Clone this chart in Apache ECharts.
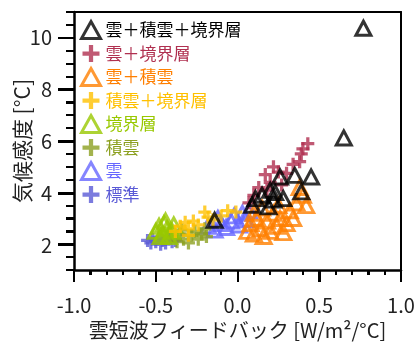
<!DOCTYPE html>
<html><head><meta charset="utf-8">
<script src="https://cdn.jsdelivr.net/npm/echarts@6/dist/echarts.min.js"></script>
<style>html,body{margin:0;padding:0;background:#fff}#c{width:420px;height:345px}</style>
</head><body><div id="c"></div>
<script>
// Legend / series names (legend order, top to bottom)
const seriesNames = ['雲＋積雲＋境界層','雲＋境界層','雲＋積雲','積雲＋境界層','境界層','積雲','雲','標準'];
// x: cloud shortwave feedback [W/m2/°C], y: climate sensitivity [°C]
const cloudCuBl = [[0.77,10.37],[0.65,6.12],[0.26,4.61],[0.35,4.67],[0.45,4.61],[0.39,4.03],[0.20,4.09],[0.11,3.77],[0.22,3.71],[0.28,3.77],[0.09,3.51],[0.19,3.45],[-0.14,2.93],[0.15,3.90],[0.23,4.00]];
const cloudBl = [[0.07,3.6],[0.10,3.9],[0.13,4.2],[0.17,4.7],[0.18,4.1],[0.20,4.4],[0.22,5.0],[0.25,4.8],[0.27,4.3],[0.30,4.75],[0.34,5.1],[0.38,5.2],[0.39,5.5],[0.40,5.7],[0.43,5.9]];
const cloudCu = [[0.06,2.5],[0.08,2.8],[0.10,2.4],[0.10,3.2],[0.12,3.0],[0.14,2.6],[0.15,3.4],[0.16,2.3],[0.18,2.9],[0.20,2.5],[0.22,3.2],[0.24,2.7],[0.25,3.5],[0.26,3.0],[0.28,2.45],[0.30,2.8],[0.32,3.3],[0.34,3.0],[0.36,3.6],[0.38,4.2],[0.40,3.9],[0.42,3.5]];
const cuBl = [[-0.38,2.5],[-0.35,2.7],[-0.32,2.85],[-0.30,2.6],[-0.30,2.35],[-0.27,2.9],[-0.24,2.75],[-0.20,3.25],[-0.18,3.05],[-0.15,2.95],[-0.10,3.1],[-0.06,3.3],[-0.01,3.25]];
const bl = [[-0.50,2.5],[-0.48,2.7],[-0.47,2.3],[-0.46,2.4],[-0.45,2.8],[-0.44,2.9],[-0.43,2.6],[-0.42,2.3],[-0.40,2.5],[-0.39,2.75]];
const cu = [[-0.40,2.3],[-0.37,2.1],[-0.35,2.4],[-0.34,2.55],[-0.33,2.2],[-0.30,2.05],[-0.28,2.35],[-0.26,2.5],[-0.24,2.2],[-0.22,2.4],[-0.20,2.6],[-0.19,2.3]];
const cloud = [[-0.18,2.7],[-0.14,2.55],[-0.12,3.0],[-0.10,2.8],[-0.07,2.65],[-0.04,2.9],[-0.02,3.1],[0.01,2.75],[0.03,3.2],[0.05,2.95],[0.07,3.3]];
const standard = [[-0.55,2.15],[-0.53,2.05],[-0.52,2.2],[-0.50,2.1],[-0.48,2.25],[-0.47,2.0],[-0.46,2.15],[-0.44,2.05],[-0.42,2.2],[-0.41,2.3],[-0.40,2.1],[-0.38,2.15]];
const seriesData = [cloudCuBl, cloudBl, cloudCu, cuBl, bl, cu, cloud, standard];
const xName = '雲短波フィードバック [W/m²/°C]';
const yName = '気候感度 [°C]';
// tick values
const xMajorTicks = [-1, -0.5, 0, 0.5, 1];
const xMinorTicks = [-0.9,-0.8,-0.7,-0.6,-0.4,-0.3,-0.2,-0.1,0.1,0.2,0.3,0.4,0.6,0.7,0.8,0.9];
const yMajorTicks = [2, 4, 6, 8, 10];
const yMinorTicks = [1,1.5,2.5,3,3.5,4.5,5,5.5,6.5,7,7.5,8.5,9,9.5,10.5,11];

const colors = ['#000000','#b03050','#ff7f00','#ffc000','#99c800','#8ca020','#6666ff','#5a5ad6'];
const kinds = ['tri','plus','tri','plus','tri','plus','tri','plus'];
const PLUS = 'path://M3,0H5V3H8V5H5V8H3V5H0V3H3Z';
const FONT = '"Noto Sans CJK JP", "Noto Sans", sans-serif';

const series = [];
for (let i = seriesNames.length - 1; i >= 0; i--) {
  const tri = kinds[i] === 'tri';
  series.push({
    name: seriesNames[i], type: 'scatter', xAxisIndex: 0, yAxisIndex: 0,
    data: seriesData[i], zlevel: 1,
    symbol: tri ? 'triangle' : PLUS,
    symbolSize: tri ? [15, 14] : 13,
    itemStyle: tri ? {color: 'rgba(0,0,0,0)', borderColor: colors[i], borderWidth: 3}
                   : {color: colors[i], borderWidth: 0}
  });
}
const legendData = seriesNames.map((n, i) => ({
  name: n,
  icon: kinds[i] === 'tri' ? 'triangle' : PLUS,
  itemStyle: kinds[i] === 'tri' ? {color: 'rgba(0,0,0,0)', borderColor: colors[i], borderWidth: 3}
                                 : {color: colors[i], borderWidth: 0},
  textStyle: {color: colors[i]}
}));

const off = () => ({show: false});
const noLine = () => ({show: false, onZero: false});
const frameLine = () => ({show: true, onZero: false, lineStyle: {color: '#000', width: 2}});
const tickStyle = () => ({color: '#000', width: 2, type: [50, 1]});
const chart = echarts.init(document.getElementById('c'), null, {renderer: 'canvas'});
chart.setOption({
  animation: false,
  textStyle: {fontFamily: FONT},
  grid: [
    {left: 74, right: 19, top: 12, bottom: 74, show: false},
    {left: 74, right: 19, top: 37.9, bottom: 99.9, show: false}
  ],
  legend: {
    zlevel: 1, orient: 'vertical', left: 75, top: 15, itemGap: 5, itemWidth: 19, itemHeight: 17,
    textStyle: {fontSize: 17, fontFamily: FONT},
    data: legendData, selectedMode: false
  },
  xAxis: [
    {type: 'value', gridIndex: 0, min: -1, max: 1, interval: 0.5, position: 'bottom',
     axisLine: {show: true, onZero: false, lineStyle: {color: '#000', width: 2.5}},
     axisTick: {show: true, inside: false, length: 12, lineStyle: tickStyle()},
     minorTick: {show: true, splitNumber: 5, length: 5, lineStyle: tickStyle()},
     axisLabel: off(), splitLine: off()},
    {type: 'value', gridIndex: 0, min: -1, max: 1, interval: 0.5, position: 'bottom',
     name: xName, nameLocation: 'middle', nameGap: 38,
     nameTextStyle: {fontSize: 20, color: '#222', fontFamily: FONT},
     axisLine: noLine(), axisTick: off(), splitLine: off(),
     axisLabel: {show: true, fontSize: 20, color: '#222', margin: 25, fontFamily: FONT, formatter: v => v.toFixed(1)}},
    {type: 'value', gridIndex: 0, min: -1, max: 1, position: 'top',
     axisLine: frameLine(), axisTick: off(), axisLabel: off(), splitLine: off()},
    {type: 'value', gridIndex: 1, min: -1, max: 1, show: false}
  ],
  yAxis: [
    {type: 'value', gridIndex: 0, min: 1, max: 11, interval: 0.5, position: 'left',
     axisLine: {show: true, onZero: false, lineStyle: {color: '#000', width: 2.5}},
     axisTick: {show: true, inside: false, length: 8, lineStyle: tickStyle()},
     axisLabel: off(), splitLine: off()},
    {type: 'value', gridIndex: 0, min: 1, max: 11, position: 'left',
     name: yName, nameLocation: 'middle', nameGap: 41,
     nameTextStyle: {fontSize: 21, color: '#222', fontFamily: FONT},
     axisLine: noLine(), axisTick: off(), axisLabel: off(), splitLine: off()},
    {type: 'value', gridIndex: 0, min: 1, max: 11, position: 'right',
     axisLine: frameLine(), axisTick: off(), axisLabel: off(), splitLine: off()},
    {type: 'value', gridIndex: 1, min: 2, max: 10, interval: 2, position: 'left',
     axisLine: noLine(), axisLabel: off(), splitLine: off(),
     axisTick: {show: true, inside: false, length: 16, lineStyle: tickStyle()}},
    {type: 'value', gridIndex: 1, min: 2, max: 10, interval: 2, position: 'left',
     axisLine: noLine(), axisTick: off(), splitLine: off(),
     axisLabel: {show: true, fontSize: 20, color: '#222', margin: 22, fontFamily: FONT}}
  ],
  series: series
});

// Tick marks placed through the chart's own axis scales
const px = v => Math.round(chart.convertToPixel({xAxisIndex: 0}, v));
const py = v => Math.round(chart.convertToPixel({yAxisIndex: 0}, v));
const xBase = py(1), yBase = px(-1);
const tick = (x1, y1, x2, y2) => ({type: 'line', silent: true, z: 50,
  shape: {x1, y1, x2, y2}, style: {stroke: '#000', lineWidth: 2}});
const ticks = [];
xMajorTicks.forEach(v => ticks.push(tick(px(v), xBase, px(v), xBase + 12)));
xMinorTicks.forEach(v => ticks.push(tick(px(v), xBase, px(v), xBase + 5)));
yMajorTicks.forEach(v => ticks.push(tick(yBase - 16, py(v), yBase, py(v))));
yMinorTicks.forEach(v => ticks.push(tick(yBase - 8, py(v), yBase, py(v))));
chart.setOption({graphic: {elements: ticks}});
</script></body></html>
